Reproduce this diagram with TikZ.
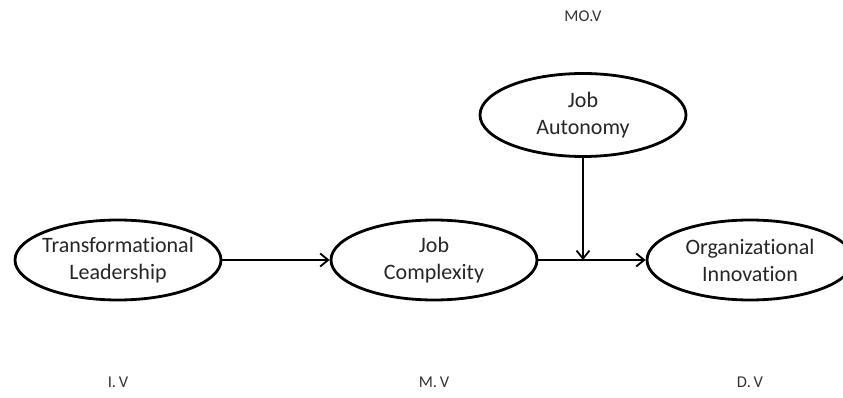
\documentclass[tikz,border=0pt]{standalone}
\usepackage{fontspec}
\setmainfont{Carlito}[Ligatures={NoCommon}]
\usepackage{tikz}
\usetikzlibrary{shapes.geometric,arrows.meta}

\begin{document}
\begin{tikzpicture}[x=1pt,y=-1pt,
        var/.style={ellipse,draw,line width=2.8pt,minimum width=206pt,minimum height=80pt,
            inner xsep=-12pt,inner ysep=0pt,align=center,font=\fontsize{22}{27}\selectfont,text=black!85},
        tag/.style={font=\fontsize{16.5}{19}\selectfont,text=black!80},
        link/.style={line width=2pt,-{Straight Barb[length=8pt,width=13pt,line width=1.8pt]}}]
        \useasboundingbox (0,0) rectangle (843,398);

        \node[var] (tl) at (118,260) {Transformational\\Leadership};
        \node[var] (jc) at (434,260) {Job\\Complexity};
        \node[var] (oi) at (750,260) {Organizational\\Innovation};
        \node[var,minimum height=83pt] (ja) at (583,115) {Job\\Autonomy};

        \node[tag] (iv) at (118,382) {I.\,V};
        \node[tag] (mv) at (434,382) {M.\,V};
        \node[tag] (dv) at (750,382) {D.\,V};
        \node[tag] (mo) at (583,16) {MO.V};

        \coordinate (hit) at (ja.south |- jc.east);
        \draw[link] (tl) -- (jc);
        \draw[link] (jc) -- (oi);
        \draw[link] (ja) -- (hit);
    \end{tikzpicture}
\end{document}
